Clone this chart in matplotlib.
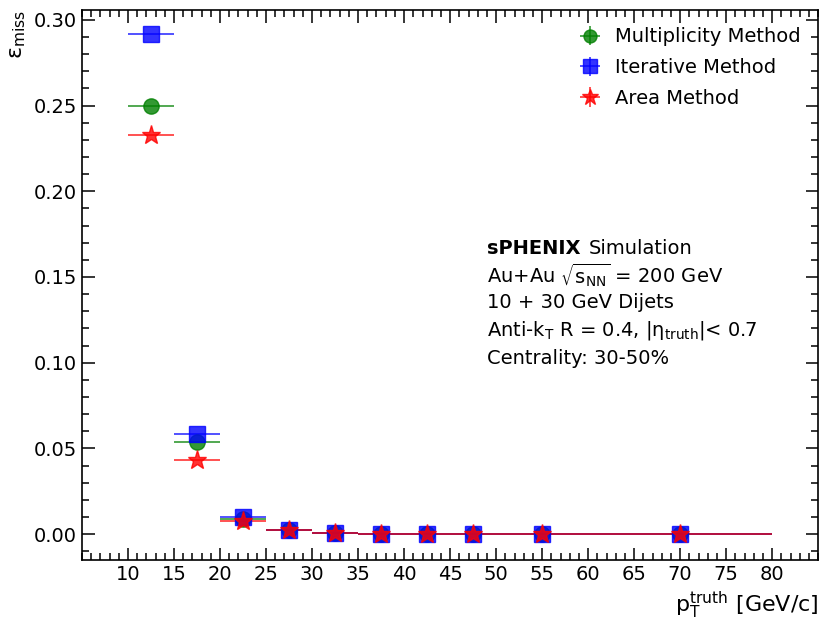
import numpy as np
import matplotlib
matplotlib.use("Agg")
import matplotlib.pyplot as plt
from matplotlib.ticker import MultipleLocator

plt.rcParams["mathtext.default"] = "regular"

# pT bins
bin_edges = [10, 15, 20, 25, 30, 35, 40, 45, 50, 60, 80]
bin_centers = [12.5, 17.5, 22.5, 27.5, 32.5, 37.5, 42.5, 47.5, 55, 70]

eff_multiplicity = [0.250, 0.0535, 0.0090, 0.0023, 0.0004, 0.0, 0.0, 0.0, 0.0, 0.0]
eff_iterative = [0.292, 0.0582, 0.0099, 0.0023, 0.0004, 0.0, 0.0, 0.0, 0.0, 0.0]
eff_area = [0.233, 0.0432, 0.0078, 0.0022, 0.0004, 0.0, 0.0, 0.0, 0.0, 0.0]

edges = np.array(bin_edges, dtype=float)
centers = np.array(bin_centers, dtype=float)
xerr = [centers - edges[:-1], edges[1:] - centers]
yerr = np.zeros_like(centers)

fig = plt.figure(figsize=(8.24, 6.21), dpi=100)
ax = fig.add_axes([0.0995, 0.098, 0.8935, 0.886])

series = [
    ("Multiplicity Method", eff_multiplicity, "o", "green", 11),
    ("Iterative Method", eff_iterative, "s", "blue", 12),
    ("Area Method", eff_area, "*", "red", 14),
]
for label, vals, mk, col, ms in series:
    ax.errorbar(centers, vals, xerr=xerr, yerr=yerr, fmt=mk, color=col,
                markersize=ms, elinewidth=1.2, alpha=0.8, label=label,
                capsize=0)

ax.set_xlim(5, 85)
ax.set_ylim(-0.0152, 0.3058)
ax.xaxis.set_major_locator(MultipleLocator(5))
ax.xaxis.set_minor_locator(MultipleLocator(1))
ax.yaxis.set_major_locator(MultipleLocator(0.05))
ax.yaxis.set_minor_locator(MultipleLocator(0.01))
ax.set_xticks(np.arange(10, 81, 5))
ax.tick_params(which="both", direction="in", top=True, right=True,
               labelsize=14, width=1.1)
ax.tick_params(which="major", length=9)
ax.tick_params(which="minor", length=5)
for s in ax.spines.values():
    s.set_linewidth(1.2)

ax.set_ylabel(r"$\varepsilon_{miss}$", fontsize=16, loc="top")
ax.set_xlabel(r"p$_{T}^{truth}$ [GeV/c]", fontsize=16, loc="right")

ax.legend(loc="upper right", frameon=False, fontsize=14, markerscale=0.85,
          handletextpad=0.5, borderaxespad=0.5, labelspacing=0.6,
          handlelength=1.6)

tx = 0.550
head = ax.text(tx, 0.567, "sPHENIX", fontsize=14, fontweight="bold",
               transform=ax.transAxes, va="center")
ax.annotate("Simulation", xy=(1, 0.5), xycoords=head, xytext=(6, 0),
            textcoords="offset points", fontsize=14, va="center")
lines = [
    r"Au+Au $\sqrt{s_{NN}}$ = 200 GeV",
    "10 + 30 GeV Dijets",
    r"Anti-k$_{T}$ R = 0.4, |$\eta_{truth}$|< 0.7",
    "Centrality: 30-50%",
]
for i, t in enumerate(lines):
    ax.text(tx, 0.518 - i * 0.0503, t, fontsize=14,
            transform=ax.transAxes, va="center")

fig.savefig("out.png", dpi=100)
